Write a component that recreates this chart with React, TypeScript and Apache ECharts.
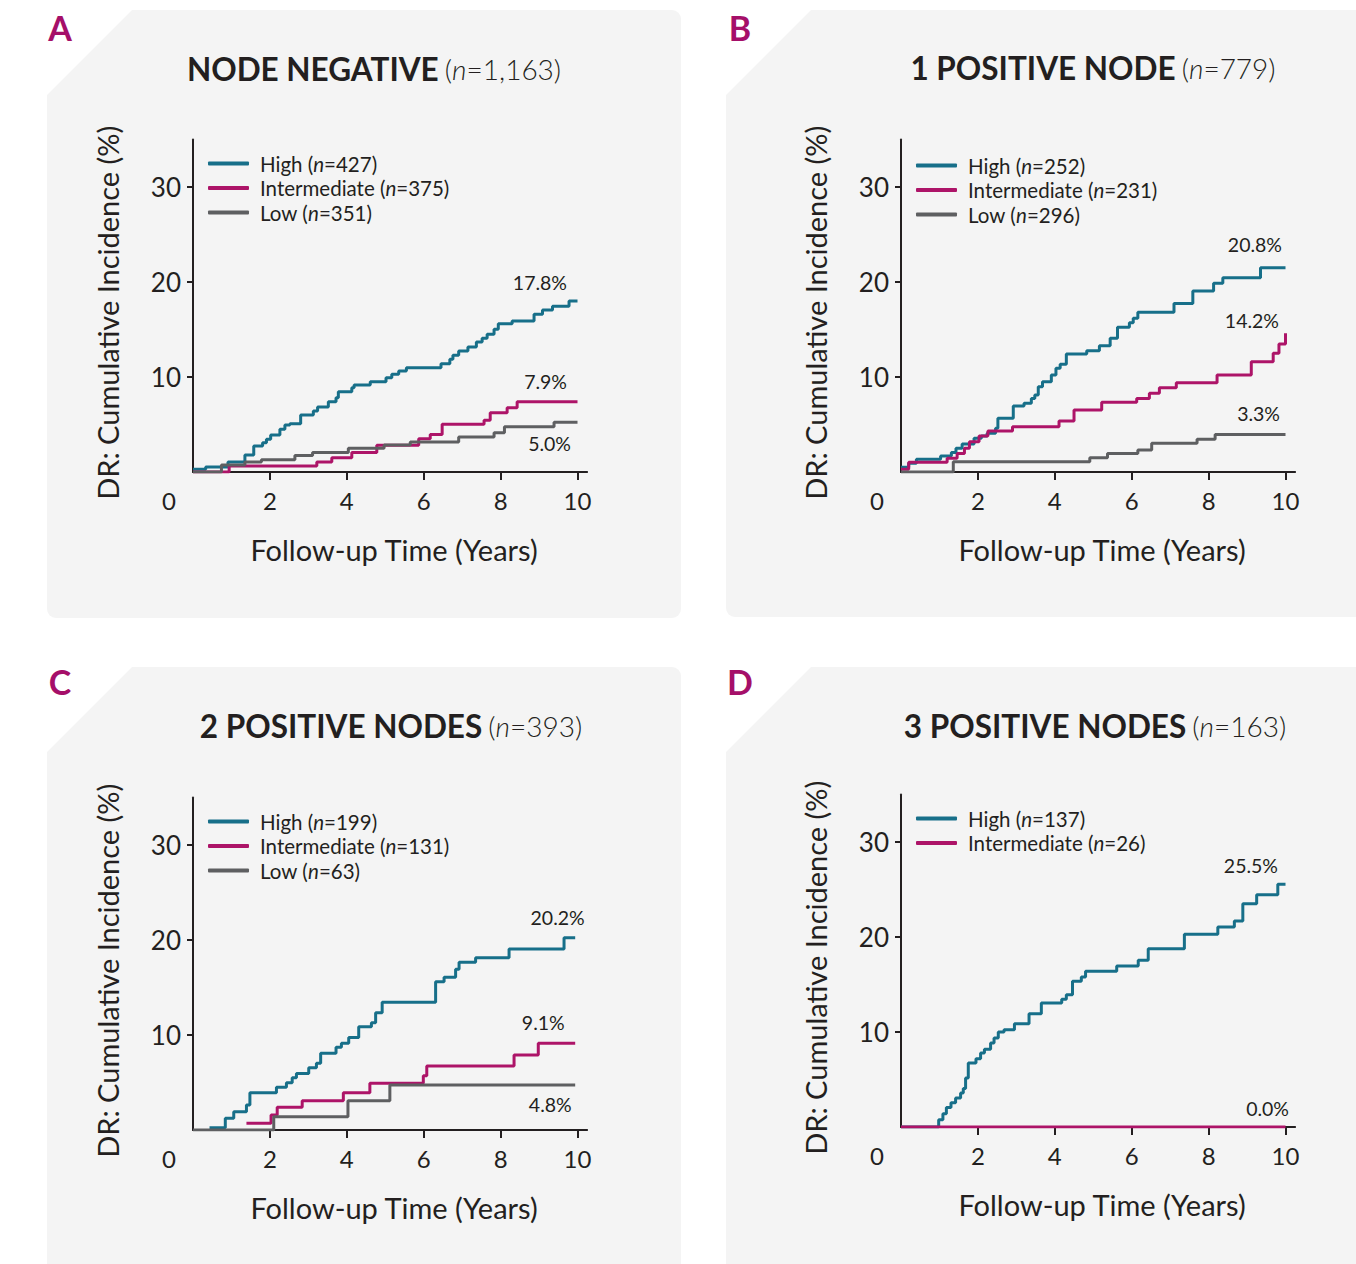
import React, { useEffect, useRef } from "react";
import * as echarts from "echarts";

// ---------- data ----------
const panelLetters = ["A", "B", "C", "D"];
const panelTitles = ["NODE NEGATIVE", "1 POSITIVE NODE", "2 POSITIVE NODES", "3 POSITIVE NODES"];
const panelTotals = ["1,163", "779", "393", "163"];

const groupNames = ["High", "Intermediate", "Low"];
const countsA = [427, 375, 351];
const countsB = [252, 231, 296];
const countsC = [199, 131, 63];
const countsD = [137, 26];

const endLabelsA = ["17.8%", "7.9%", "5.0%"];
const endLabelsB = ["20.8%", "14.2%", "3.3%"];
const endLabelsC = ["20.2%", "9.1%", "4.8%"];
const endLabelsD = ["25.5%", "0.0%"];

const xTickValues = [2, 4, 6, 8, 10];
const xLabelValues = [0, 2, 4, 6, 8, 10];
const yTickValues = [10, 20, 30];

// [years, cumulative incidence %]
const highA = [[0, 0.28], [0.33, 0.53], [0.91, 1.05], [1.35, 1.79], [1.58, 2.74], [1.81, 3.09], [1.91, 3.44], [2.02, 3.89], [2.26, 4.49], [2.39, 4.95], [2.52, 5.09], [2.8, 6.0], [3.13, 6.42], [3.24, 6.84], [3.52, 7.4], [3.72, 7.82], [3.78, 8.46], [4.13, 8.88], [4.19, 9.16], [4.61, 9.51], [5.02, 9.93], [5.17, 10.28], [5.35, 10.63], [5.55, 10.98], [6.45, 11.4], [6.68, 11.86], [6.76, 12.28], [6.91, 12.74], [7.15, 13.16], [7.37, 13.68], [7.52, 14.09], [7.65, 14.49], [7.83, 15.02], [7.94, 15.61], [8.3, 15.89], [8.87, 16.6], [9.09, 17.05], [9.35, 17.44], [9.78, 18.0], [10, 18.0]];
const intA = [[0, 0.0], [0.94, 0.63], [3.22, 1.05], [3.61, 1.51], [4.13, 2.04], [4.78, 2.81], [5.87, 3.51], [6.17, 3.96], [6.48, 5.02], [7.57, 5.44], [7.73, 6.25], [8.17, 6.77], [8.43, 7.4], [10, 7.4]];
const lowA = [[0, 0.0], [0.74, 0.74], [1.35, 1.05], [1.78, 1.3], [2.65, 1.75], [3.11, 2.04], [4.04, 2.49], [4.97, 2.84], [5.65, 3.16], [6.91, 3.68], [7.83, 4.14], [8.1, 4.77], [9.39, 5.23], [10, 5.23]];

const highB = [[0, 0.49], [0.2, 0.91], [0.4, 1.33], [1.03, 1.68], [1.31, 2.04], [1.43, 2.49], [1.59, 2.95], [1.9, 3.54], [2.09, 3.79], [2.24, 4.07], [2.46, 4.6], [2.52, 5.65], [2.92, 6.95], [3.2, 7.23], [3.39, 7.75], [3.48, 8.11], [3.57, 8.98], [3.68, 9.51], [3.91, 10.21], [4.03, 10.91], [4.14, 11.33], [4.3, 12.42], [4.83, 12.77], [5.16, 13.3], [5.44, 14.07], [5.63, 15.23], [5.94, 15.72], [6.04, 16.18], [6.16, 16.81], [7.1, 17.75], [7.59, 19.05], [8.13, 19.86], [8.37, 20.46], [9.35, 21.51], [10, 21.51]];
const intB = [[0, 0.3], [0.2, 1.02], [1.2, 1.44], [1.46, 1.96], [1.65, 2.49], [1.78, 3.19], [2.03, 3.79], [2.26, 4.32], [2.9, 4.77], [4.11, 5.37], [4.5, 6.53], [5.22, 7.33], [6.13, 7.75], [6.46, 8.28], [6.72, 8.88], [7.16, 9.4], [8.22, 10.21], [9.11, 11.61], [9.68, 12.49], [9.83, 13.47], [10, 14.6]];
const lowB = [[0, 0.0], [1.36, 1.09], [4.91, 1.51], [5.37, 1.96], [6.16, 2.32], [6.52, 3.02], [7.7, 3.44], [8.17, 3.96], [10, 3.96]];

const highC = [[0.43, 0.25], [0.84, 1.23], [1.06, 1.93], [1.39, 2.63], [1.48, 3.93], [2.17, 4.49], [2.43, 4.98], [2.58, 5.51], [2.69, 5.96], [3.01, 6.56], [3.21, 7.02], [3.32, 8.07], [3.72, 8.7], [3.86, 9.12], [4.05, 9.75], [4.31, 10.88], [4.64, 11.3], [4.75, 12.35], [4.92, 13.44], [6.31, 15.61], [6.53, 16.07], [6.83, 16.91], [6.92, 17.65], [7.35, 18.14], [8.22, 19.05], [9.65, 20.25], [9.94, 20.25]];
const intC = [[1.39, 0.7], [2.03, 1.58], [2.19, 2.39], [2.84, 3.09], [3.91, 3.93], [4.6, 4.91], [5.99, 5.72], [6.08, 6.74], [8.35, 7.89], [8.98, 9.12], [9.94, 9.12]];
const lowC = [[0, 0.0], [2.1, 1.4], [4.03, 3.09], [5.12, 4.74], [9.94, 4.74]];

const highD = [[0, 0.0], [0.98, 0.77], [1.09, 1.4], [1.18, 2.04], [1.3, 2.56], [1.42, 3.05], [1.55, 3.58], [1.62, 4.04], [1.68, 5.16], [1.75, 6.74], [1.95, 7.19], [2.07, 7.79], [2.17, 8.18], [2.33, 8.84], [2.42, 9.37], [2.53, 10.0], [2.68, 10.25], [2.95, 10.88], [3.33, 11.93], [3.65, 13.05], [4.18, 13.44], [4.3, 13.93], [4.46, 15.33], [4.69, 15.79], [4.8, 16.39], [5.61, 16.95], [6.17, 17.54], [6.43, 18.77], [7.37, 20.28], [8.24, 21.05], [8.67, 21.68], [8.89, 23.51], [9.25, 24.46], [9.8, 25.54], [10, 25.54]];
const intD = [[0, 0.0], [10, 0.0]];

// ---------- styling / layout ----------
const FONT = "Lato, 'Open Sans', 'Noto Sans', sans-serif";
const TEXT = "#231f20";
const COLORS = ["#176f89", "#ad1468", "#5e5f61"];
const MAGENTA = "#a50f69";
const CARD = "#f4f4f4";
const PX_YEAR = 38.45;
const PX_PCT = 9.5;
const X_MAX = 10.25;
const Y_MAX = 35;

const layouts = [
  { cardX: 47, cardY: 10, cardW: 634, cardH: 608, axisX: 193, zeroY: 472, titleX: 374, titleY: 69, legendX: 208, legendTop: 153, letterX: 60, letterY: 27,
    offsets: [[-10, -18], [-10, -20], [-6, 22]] },
  { cardX: 726, cardY: 10, cardW: 650, cardH: 607, axisX: 901, zeroY: 472, titleX: 1093, titleY: 68, legendX: 916, legendTop: 155, letterX: 740, letterY: 27,
    offsets: [[-3, -23], [-6, -12], [-5, -20]] },
  { cardX: 47, cardY: 667, cardW: 634, cardH: 640, axisX: 193, zeroY: 1130, titleX: 391, titleY: 726, legendX: 208, legendTop: 811, letterX: 60, letterY: 681,
    offsets: [[10, -20], [-10, -20], [-3, 20]] },
  { cardX: 726, cardY: 667, cardW: 650, cardH: 640, axisX: 901, zeroY: 1127, titleX: 1095, titleY: 726, legendX: 916, legendTop: 808, letterX: 740, letterY: 681,
    offsets: [[-7, -18], [4, -18]] },
];

const panelSeries = [
  { data: [highA, intA, lowA], counts: countsA, labels: endLabelsA },
  { data: [highB, intB, lowB], counts: countsB, labels: endLabelsB },
  { data: [highC, intC, lowC], counts: countsC, labels: endLabelsC },
  { data: [highD, intD], counts: countsD, labels: endLabelsD },
];

function buildOption() {
  const grid: any[] = [];
  const xAxis: any[] = [];
  const yAxis: any[] = [];
  const series: any[] = [];
  const legend: any[] = [];
  const graphic: any[] = [];

  layouts.forEach((L, p) => {
    const cut = 86;
    graphic.push({ type: "rect", z: -10, silent: true, shape: { x: L.cardX, y: L.cardY, width: L.cardW, height: L.cardH, r: 9 }, style: { fill: CARD } });
    graphic.push({ type: "polygon", z: -9, silent: true, shape: { points: [[L.cardX - 2, L.cardY - 2], [L.cardX + cut + 1, L.cardY - 2], [L.cardX - 2, L.cardY + cut + 1]] }, style: { fill: "#ffffff" } });
    graphic.push({ type: "text", z: 5, x: L.letterX, y: L.letterY, style: { text: panelLetters[p], fill: MAGENTA, font: `bold 34px ${FONT}`, align: "center", verticalAlign: "middle" } });
    graphic.push({
      type: "text", z: 5, x: L.titleX, y: L.titleY,
      style: {
        text: `{b|${panelTitles[p]}}{s| }{l|(}{li|n}{l|=${panelTotals[p]})}`,
        align: "center", verticalAlign: "middle", fill: TEXT,
        rich: {
          b: { fontFamily: FONT, fontWeight: "bold", fontSize: 31.5, fill: TEXT },
          s: { fontFamily: FONT, fontSize: 24, fill: TEXT },
          l: { fontFamily: FONT, fontWeight: 300, fontSize: 28, fill: TEXT },
          li: { fontFamily: FONT, fontWeight: 300, fontStyle: "italic", fontSize: 28, fill: TEXT },
        },
      },
    });

    grid.push({ left: L.axisX, top: L.zeroY - Y_MAX * PX_PCT, width: X_MAX * PX_YEAR, height: Y_MAX * PX_PCT, containLabel: false });
    xAxis.push({
      gridIndex: p, type: "value", min: 0, max: X_MAX,
      name: "Follow-up Time (Years)", nameLocation: "middle", nameGap: 63,
      nameTextStyle: { fontFamily: FONT, fontSize: 29, color: TEXT, padding: [0, 0, 0, 8] },
      axisLine: { show: true, onZero: false, lineStyle: { color: TEXT, width: 2 } },
      axisTick: { show: true, length: 8, customValues: xTickValues, lineStyle: { color: TEXT, width: 2 } },
      axisLabel: {
        show: true, customValues: xLabelValues, margin: 16, fontFamily: FONT, fontSize: 24, color: TEXT,
        formatter: (v: number) => (v === 0 ? "{z|0}" : String(v)),
        rich: { z: { fontFamily: FONT, fontSize: 24, color: TEXT, padding: [0, 48, 0, 0] } },
      },
      splitLine: { show: false },
    });
    yAxis.push({
      gridIndex: p, type: "value", min: 0, max: Y_MAX,
      name: "DR: Cumulative Incidence (%)", nameLocation: "middle", nameGap: 71,
      nameTextStyle: { fontFamily: FONT, fontSize: 29, color: TEXT, padding: [0, 14, 0, 0] },
      axisLine: { show: true, onZero: false, lineStyle: { color: TEXT, width: 2 } },
      axisTick: { show: true, length: 6, customValues: yTickValues, lineStyle: { color: TEXT, width: 2 } },
      axisLabel: { show: true, customValues: yTickValues, margin: 12, fontFamily: FONT, fontSize: 26, color: TEXT },
      splitLine: { show: false },
    });

    const ps = panelSeries[p];
    const names: string[] = [];
    ps.data.forEach((d, k) => {
      const name = `${groupNames[k]} (n=${ps.counts[k]})`;
      names.push(name);
      const last = d[d.length - 1];
      const off = L.offsets[k];
      series.push({
        name, type: "line", step: "end", xAxisIndex: p, yAxisIndex: p,
        data: d, showSymbol: false, symbol: "none", silent: true, z: 3,
        color: COLORS[k],
        lineStyle: { color: COLORS[k], width: 3 },
        markPoint: {
          silent: true, symbol: "circle", symbolSize: 1,
          itemStyle: { color: "rgba(0,0,0,0)" },
          label: { show: true, position: off, align: "right", verticalAlign: "middle", fontFamily: FONT, fontSize: 19.5, color: TEXT, formatter: ps.labels[k] },
          data: [{ coord: last, value: ps.labels[k] }],
        },
      });
    });

    legend.push({
      data: names, orient: "vertical", left: L.legendX, top: L.legendTop, padding: 0,
      itemWidth: 41, itemHeight: 4, itemGap: 3.5, icon: "roundRect", selectedMode: false,
      formatter: (n: string) => n.replace("(n=", "({i|n}="),
      textStyle: {
        fontFamily: FONT, fontSize: 20.5, color: TEXT, lineHeight: 20, padding: [0, 0, 0, 6],
        rich: { i: { fontFamily: FONT, fontSize: 20.5, fontStyle: "italic", color: TEXT, lineHeight: 20 } },
      },
    });
  });

  return { animation: false, backgroundColor: "#ffffff", grid, xAxis, yAxis, series, legend, graphic };
}

export default function App() {
  const ref = useRef<HTMLDivElement>(null);
  useEffect(() => {
    if (!ref.current) return;
    const chart = echarts.init(ref.current, null, { renderer: "svg" });
    chart.setOption(buildOption() as any);
    return () => chart.dispose();
  }, []);
  return (
    <div style={{ position: "absolute", left: 0, top: 0, width: 1356, height: 1264, background: "#fff" }}>
      <div ref={ref} style={{ width: 1356, height: 1264 }} />
    </div>
  );
}
